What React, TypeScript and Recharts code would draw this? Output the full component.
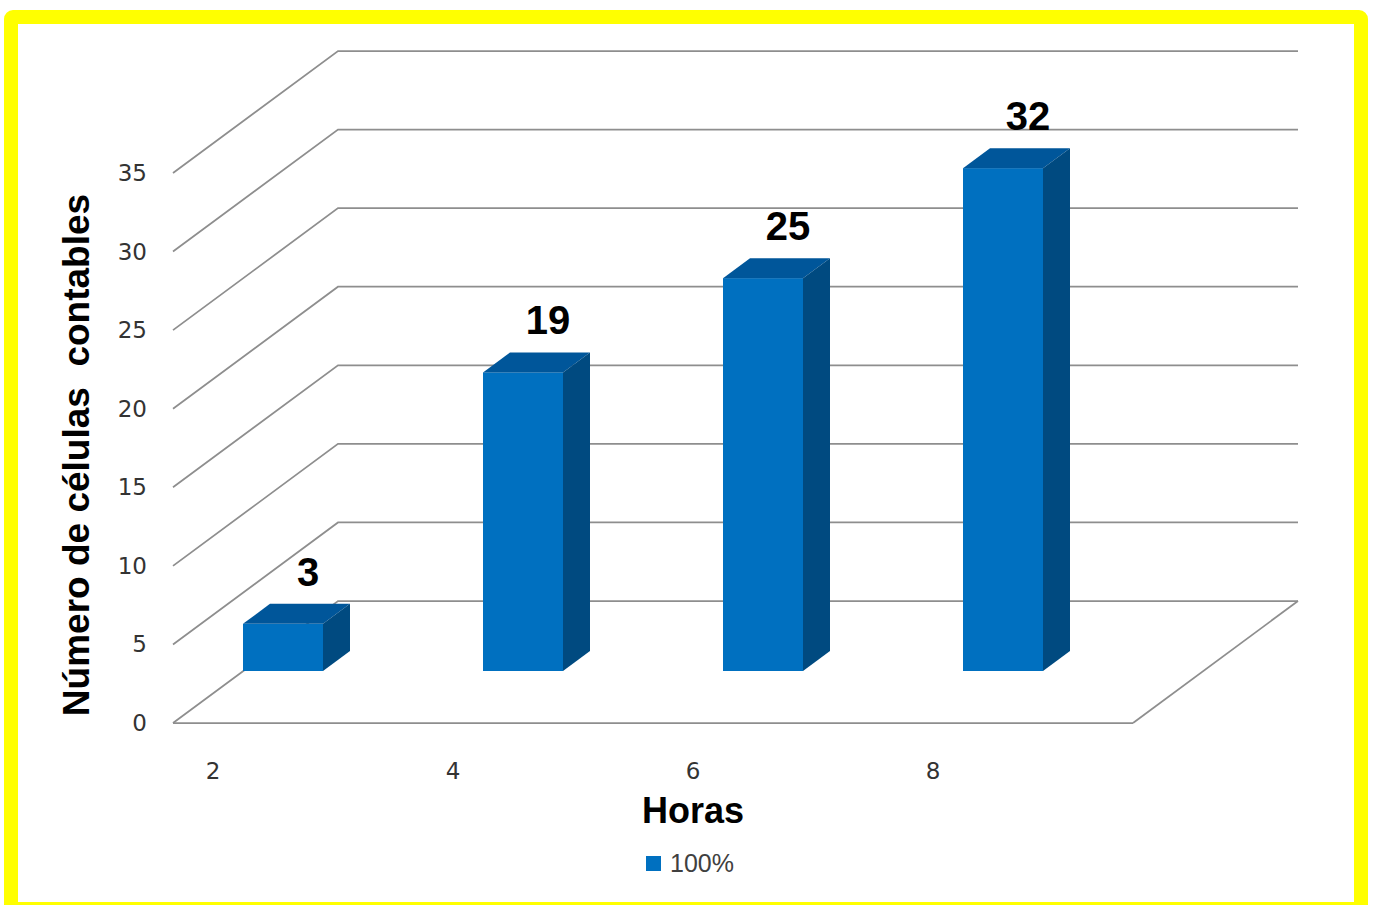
import { Bar, BarChart, CartesianGrid, Label, LabelList, Legend, XAxis, YAxis } from "recharts";

const horas = ["2", "4", "6", "8"];
const celulas = [3, 19, 25, 32];
const yTicks = [0, 5, 10, 15, 20, 25, 30, 35];
const serieNombre = "100%";

const data = horas.map((h, i) => ({ hora: h, celulas: celulas[i] }));

// 3D look: back wall offset, bar depth and bar lift above the front edge
const WALL_DX = 165;
const WALL_DY = 122;
const BAR_DX = 27;
const BAR_DY = 20;
const LIFT = 52;
const BAR_SHIFT = -10;

const GRID = "#8E8E8E";
const FRONT = "#0070C0";
const TOP = "#00569A";
const SIDE = "#004A80";
const SANS = "'Liberation Sans', Arial, sans-serif";

function GridLine(props: any) {
  const { x1, y1, x2, y, height } = props;
  const by = y1 - WALL_DY;
  const isFloor = Math.abs(y1 - (y + height)) < 1;
  return (
    <g>
      <polyline
        points={`${x1},${y1} ${x1 + WALL_DX},${by} ${x2 + WALL_DX},${by}`}
        fill="none"
        stroke={GRID}
        strokeWidth={1.75}
      />
      {isFloor && (
        <line x1={x2} y1={y1} x2={x2 + WALL_DX} y2={by} stroke={GRID} strokeWidth={1.75} />
      )}
    </g>
  );
}

function Box3D(props: any) {
  const { x, y, width, height } = props;
  const left = x + BAR_SHIFT;
  const right = left + width;
  const top = y - LIFT;
  const bottom = y + height - LIFT;
  return (
    <g>
      <rect x={left} y={top} width={width} height={height} fill={FRONT} />
      <polygon
        points={`${left},${top} ${left + BAR_DX},${top - BAR_DY} ${right + BAR_DX},${top - BAR_DY} ${right},${top}`}
        fill={TOP}
      />
      <polygon
        points={`${right},${top} ${right + BAR_DX},${top - BAR_DY} ${right + BAR_DX},${bottom - BAR_DY} ${right},${bottom}`}
        fill={SIDE}
      />
    </g>
  );
}

function ValueLabel(props: any) {
  const { x, y, width, value } = props;
  const cx = x + BAR_SHIFT + width / 2 + 25;
  const baseline = y - LIFT - BAR_DY - 18;
  return (
    <text x={cx} y={baseline} textAnchor="middle" fontFamily={SANS} fontWeight="bold" fontSize={40} fill="#000">
      {value}
    </text>
  );
}

function XTick(props: any) {
  const { x, payload } = props;
  return (
    <text x={x - 80} y={771} textAnchor="middle" dominantBaseline="central" fontFamily="'DejaVu Sans', sans-serif" fontSize={23} fill="#333">
      {payload.value}
    </text>
  );
}

function YTick(props: any) {
  const { y, payload } = props;
  return (
    <text x={147} y={y} textAnchor="end" dominantBaseline="central" fontFamily="'DejaVu Sans', sans-serif" fontSize={23} fill="#333">
      {payload.value}
    </text>
  );
}

function LegendBox(props: any) {
  const item = props.payload?.[0];
  return (
    <div style={{ display: "flex", alignItems: "center", height: 30, fontFamily: SANS, fontSize: 25, color: "#404040" }}>
      <span style={{ width: 15, height: 15, background: item?.color ?? FRONT, marginRight: 9 }} />
      <span>{item?.value ?? serieNombre}</span>
    </div>
  );
}

export default function App() {
  return (
    <div>
      <div
        style={{
          position: "fixed",
          left: 4,
          top: 10,
          width: 1364,
          height: 906,
          boxSizing: "border-box",
          border: "14px solid #FFFF00",
          borderRadius: 9,
          background: "#fff",
        }}
      />
      <div style={{ position: "fixed", left: 0, top: 0 }}>
        <BarChart width={1376} height={905} data={data} margin={{ top: 173, right: 243, bottom: 122, left: 113 }}>
          <CartesianGrid vertical={false} horizontal={(p: any) => <GridLine key={p.key} {...p} />} />
          <XAxis
            dataKey="hora"
            height={60}
            axisLine={{ stroke: GRID, strokeWidth: 1.75 }}
            tickLine={false}
            tick={<XTick />}
            interval={0}
          >
            <Label
              content={(p: any) => (
                <text
                  x={p.viewBox.x + p.viewBox.width / 2 + 40}
                  y={p.viewBox.y + 100}
                  textAnchor="middle"
                  fontFamily={SANS}
                  fontWeight="bold"
                  fontSize={36}
                  fill="#000"
                >
                  Horas
                </text>
              )}
            />
          </XAxis>
          <YAxis
            width={60}
            domain={[0, 35]}
            ticks={yTicks}
            axisLine={false}
            tickLine={false}
            tick={<YTick />}
            interval={0}
          >
            <Label
              content={(p: any) => {
                const cx = 76;
                const cy = p.viewBox.y + p.viewBox.height / 2 + 7;
                return (
                  <text
                    x={cx}
                    y={cy}
                    transform={`rotate(-90 ${cx} ${cy})`}
                    textAnchor="middle"
                    dominantBaseline="central"
                    fontFamily={SANS}
                    fontWeight="bold"
                    fontSize={37}
                    fill="#000"
                    style={{ whiteSpace: "pre" }}
                  >
                    {"Número de células  contables"}
                  </text>
                );
              }}
            />
          </YAxis>
          <Legend
            layout="horizontal"
            verticalAlign="middle"
            align="center"
            wrapperStyle={{ top: 848, left: 646, width: "auto" }}
            content={<LegendBox />}
          />
          <Bar dataKey="celulas" name={serieNombre} fill={FRONT} barSize={80} shape={<Box3D />} isAnimationActive={false}>
            <LabelList dataKey="celulas" content={<ValueLabel />} />
          </Bar>
        </BarChart>
      </div>
    </div>
  );
}
